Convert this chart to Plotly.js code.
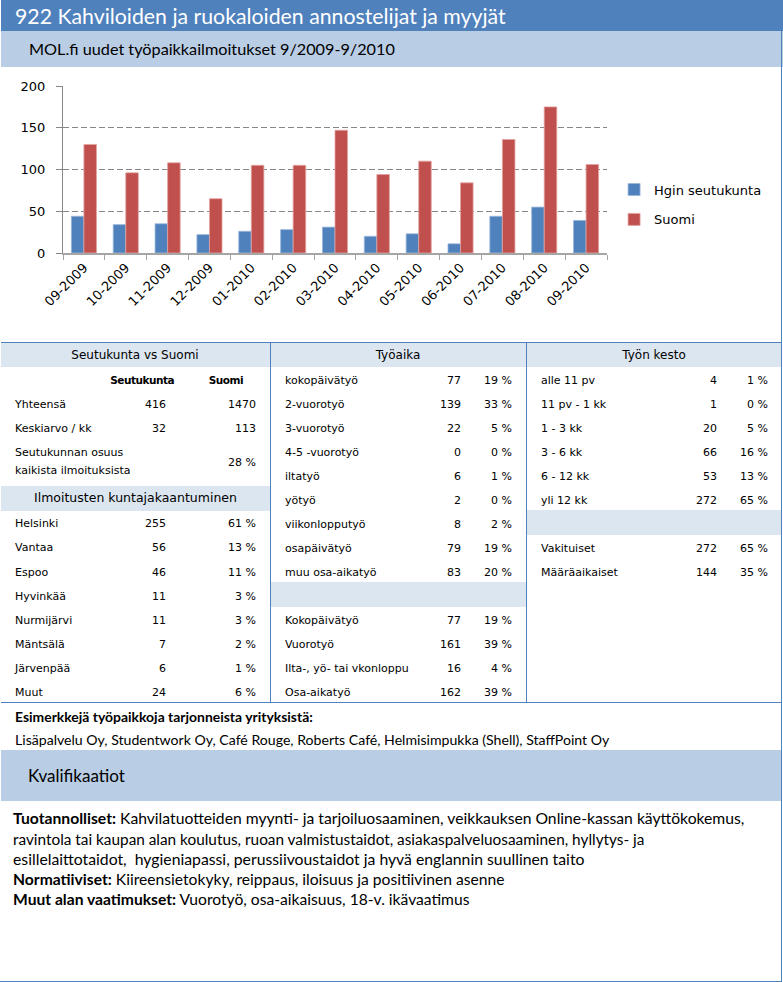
<!DOCTYPE html>
<html>
<head>
<meta charset="utf-8">
<script src="https://cdn.plot.ly/plotly-3.0.1.min.js"></script>
<style>
html,body{margin:0;padding:0;background:#fff;}
#page{position:relative;width:783px;height:982px;overflow:hidden;background:#fff;}
.abs{position:absolute;}
.cal{font-family:Lato,'Open Sans',sans-serif;white-space:pre;color:#000;line-height:1.2;}
.tb{font-family:'DejaVu Sans',Verdana,sans-serif;color:#000;white-space:pre;}
#chart{position:absolute;left:0;top:67px;width:781px;height:275px;}
</style>
</head>
<body>
<div id="page"><div id="chart"></div></div>
<script>
// ---------- chart data ----------
const months = ['09-2009','10-2009','11-2009','12-2009','01-2010','02-2010','03-2010','04-2010','05-2010','06-2010','07-2010','08-2010','09-2010'];
const hginValues = [44,34,35,22,26,28,31,20,23,11,44,55,39];
const suomiValues = [130,96,108,65,105,105,147,94,110,84,136,175,106];
const seriesNames = ['Hgin seutukunta','Suomi'];
const yTicks = [0,50,100,150,200];

// ---------- table data ----------
const titleText = '922 Kahviloiden ja ruokaloiden annostelijat ja myyjät';
const subtitleText = 'MOL.fi uudet työpaikkailmoitukset 9/2009-9/2010';
const tableHeaders = ['Seutukunta vs Suomi','Työaika','Työn kesto'];
const compareCols = ['Seutukunta','Suomi'];
const summaryLabels = ['Yhteensä','Keskiarvo / kk'];
const summarySeutu = [416,32];
const summarySuomi = [1470,113];
const shareLines = ['Seutukunnan osuus','kaikista ilmoituksista'];
const shareValue = 28;
const kuntaHeader = 'Ilmoitusten kuntajakaantuminen';
const kunnat = ['Helsinki','Vantaa','Espoo','Hyvinkää','Nurmijärvi','Mäntsälä','Järvenpää','Muut'];
const kuntaCounts = [255,56,46,11,11,7,6,24];
const kuntaPct = [61,13,11,3,3,2,1,6];
const tyoaikaLabels = ['kokopäivätyö','2-vuorotyö','3-vuorotyö','4-5 -vuorotyö','iltatyö','yötyö','viikonlopputyö','osapäivätyö','muu osa-aikatyö'];
const tyoaikaCounts = [77,139,22,0,6,2,8,79,83];
const tyoaikaPct = [19,33,5,0,1,0,2,19,20];
const tyoaikaSumLabels = ['Kokopäivätyö','Vuorotyö','Ilta-, yö- tai vkonloppu','Osa-aikatyö'];
const tyoaikaSumCounts = [77,161,16,162];
const tyoaikaSumPct = [19,39,4,39];
const kestoLabels = ['alle 11 pv','11 pv - 1 kk','1 - 3 kk','3 - 6 kk','6 - 12 kk','yli 12 kk'];
const kestoCounts = [4,1,20,66,53,272];
const kestoPct = [1,0,5,16,13,65];
const sopimusLabels = ['Vakituiset','Määräaikaiset'];
const sopimusCounts = [272,144];
const sopimusPct = [65,35];
const companiesTitle = 'Esimerkkejä työpaikkoja tarjonneista yrityksistä:';
const companiesText = 'Lisäpalvelu Oy, Studentwork Oy, Café Rouge, Roberts Café, Helmisimpukka (Shell), StaffPoint Oy';
const qualTitle = 'Kvalifikaatiot';
const qualLines = [
  ['Tuotannolliset:',' Kahvilatuotteiden myynti- ja tarjoiluosaaminen, veikkauksen Online-kassan käyttökokemus,'],
  ['','ravintola tai kaupan alan koulutus, ruoan valmistustaidot, asiakaspalveluosaaminen, hyllytys- ja'],
  ['','esillelaittotaidot,  hygieniapassi, perussiivoustaidot ja hyvä englannin suullinen taito'],
  ['Normatiiviset:',' Kiireensietokyky, reippaus, iloisuus ja positiivinen asenne'],
  ['Muut alan vaatimukset:',' Vuorotyö, osa-aikaisuus, 18-v. ikävaatimus']
];

// ---------- helpers ----------
const page = document.getElementById('page');
function box(x,y,w,h,color){
  const d=document.createElement('div'); d.className='abs';
  Object.assign(d.style,{left:x+'px',top:y+'px',width:w+'px',height:h+'px',background:color});
  page.appendChild(d); return d;
}
function cell(text,x,yc,align,opts){
  opts=opts||{};
  const d=document.createElement('div'); d.className='abs tb'; d.textContent=text;
  const fs=opts.fs||11, lh=fs*1.3;
  d.style.fontSize=fs+'px'; d.style.lineHeight=lh+'px'; d.style.top=(yc-lh/2)+'px';
  if(opts.bold) d.style.fontWeight='bold';
  if(opts.ls!==undefined) d.style.letterSpacing=opts.ls+'px';
  if(opts.color) d.style.color=opts.color;
  if(align==='left'){d.style.left=x+'px';}
  else if(align==='right'){d.style.left=(x-300)+'px';d.style.width='300px';d.style.textAlign='right';}
  else {d.style.left=(x-150)+'px';d.style.width='300px';d.style.textAlign='center';}
  page.appendChild(d); return d;
}
function esc(s){return s.replace(/&/g,'&amp;').replace(/</g,'&lt;');}
function ctext(html,x,yc,targetW,fs,color){
  const d=document.createElement('div'); d.className='abs cal'; d.innerHTML=html;
  d.style.left=x+'px'; d.style.top='0px'; d.style.fontSize=fs+'px';
  if(color) d.style.color=color;
  page.appendChild(d);
  const w=d.getBoundingClientRect().width;
  const nfs=fs*targetW/w;
  d.style.fontSize=nfs+'px';
  d.style.top=(yc-0.626*nfs)+'px';
  return d;
}
const pct = v => v+' %';

// ---------- static frame ----------
const BLUE='#4F81BD', LIGHT='#B9CDE5', BAND='#DCE6F1';
box(1,0,782,31,BLUE);
box(1,31,782,36,LIGHT);
ctext(esc(titleText),15,17,491,21,'#fff');
ctext(esc(subtitleText),29,49,366,16,'#000');

// table bands and lines
box(1,343,269,24,BAND); box(271,343,255,24,BAND); box(527,343,254,24,BAND);
box(1,486,269,25,BAND);
box(271,582,255,25,BAND);
box(527,510,254,25,BAND);
box(1,342,781,1,BLUE);
box(270,342,1,360,BLUE);
box(526,342,1,360,BLUE);
box(1,702,781,1,BLUE);
box(781,31,1,951,BLUE);
box(0,981,782,1,BLUE);

// column 1
cell(tableHeaders[0],135,355.5,'center',{fs:12});
cell(compareCols[0],174,381,'right',{bold:true,fs:10.5,ls:-0.5});
cell(compareCols[1],243,381,'right',{bold:true,fs:10.5,ls:-0.5});
summaryLabels.forEach((l,i)=>{
  const y=405+24*i;
  cell(l,15,y,'left'); cell(String(summarySeutu[i]),166,y,'right'); cell(String(summarySuomi[i]),256,y,'right');
});
cell(shareLines[0],15,453,'left'); cell(shareLines[1],15,471.5,'left');
cell(pct(shareValue),256,463,'right');
cell(kuntaHeader,135.5,498.5,'center',{fs:12.5});
kunnat.forEach((l,i)=>{
  const y=524.5+24.1*i;
  cell(l,15,y,'left'); cell(String(kuntaCounts[i]),166,y,'right'); cell(pct(kuntaPct[i]),256,y,'right');
});

// column 2
cell(tableHeaders[1],398,355.5,'center',{fs:12});
tyoaikaLabels.forEach((l,i)=>{
  const y=381.5+24*i;
  cell(l,285,y,'left'); cell(String(tyoaikaCounts[i]),461,y,'right'); cell(pct(tyoaikaPct[i]),512,y,'right');
});
tyoaikaSumLabels.forEach((l,i)=>{
  const y=621+24*i;
  cell(l,285,y,'left'); cell(String(tyoaikaSumCounts[i]),461,y,'right'); cell(pct(tyoaikaSumPct[i]),512,y,'right');
});

// column 3
cell(tableHeaders[2],654,355.5,'center',{fs:12});
kestoLabels.forEach((l,i)=>{
  const y=381.5+24*i;
  cell(l,541,y,'left'); cell(String(kestoCounts[i]),717,y,'right'); cell(pct(kestoPct[i]),768,y,'right');
});
sopimusLabels.forEach((l,i)=>{
  const y=549.3+24*i;
  cell(l,541,y,'left'); cell(String(sopimusCounts[i]),717,y,'right'); cell(pct(sopimusPct[i]),768,y,'right');
});

// bottom texts
ctext('<b>'+esc(companiesTitle)+'</b>',15,717.5,298,15);
ctext(esc(companiesText),15,740.5,595,15);
box(1,750,780,51,LIGHT);
ctext(esc(qualTitle),28,777,97,19);
const lineY=[819,839.5,860,880,900];
const lineW=[732,632,572,492,457];
qualLines.forEach((p,i)=>{
  const html=(p[0]?'<b>'+esc(p[0])+'</b>':'')+esc(p[1]);
  ctext(html,13,lineY[i],lineW[i],15);
});

// ---------- chart ----------
const traces=[
  {type:'bar',name:seriesNames[0],x:months,y:hginValues,legendgroup:'a',
   marker:{color:'#4F81BD',line:{color:'#9CB6DA',width:0.8}}},
  {type:'bar',name:seriesNames[1],x:months,y:suomiValues,legendgroup:'b',
   marker:{color:'#C0504D',line:{color:'#E2A3A1',width:0.8}}}
];
const layout={
  width:781,height:275,
  margin:{l:63,r:174,t:19,b:89,pad:0},
  paper_bgcolor:'rgba(0,0,0,0)',plot_bgcolor:'rgba(0,0,0,0)',
  font:{family:'DejaVu Sans, Verdana, sans-serif',size:13,color:'#000'},
  barmode:'group',bargap:0.4,bargroupgap:0,
  showlegend:true,
  xaxis:{type:'category',tickangle:-45,showline:true,linecolor:'#A6A6A6',linewidth:2,
    ticks:'outside',tickson:'boundaries',ticklen:5,tickcolor:'#A6A6A6',tickwidth:1,
    showgrid:false,zeroline:false,tickfont:{size:13,color:'#000'},fixedrange:true},
  yaxis:{range:[0,200],tickvals:yTicks,showline:true,linecolor:'#868686',linewidth:1,
    ticks:'outside',ticklen:6,tickcolor:'#868686',showgrid:true,gridcolor:'#868686',
    griddash:'6px,3px',gridwidth:1,zeroline:false,tickfont:{size:13,color:'#000'},
    ticklabelstandoff:8,fixedrange:true},
  legend:{x:1.013,xanchor:'left',y:0.29,yanchor:'middle',font:{size:13,color:'#000'},
    tracegroupgap:10,bgcolor:'rgba(0,0,0,0)',borderwidth:0,traceorder:'grouped'}
};
Plotly.newPlot('chart',traces,layout,{staticPlot:true,displayModeBar:false});
</script>
</body>
</html>
